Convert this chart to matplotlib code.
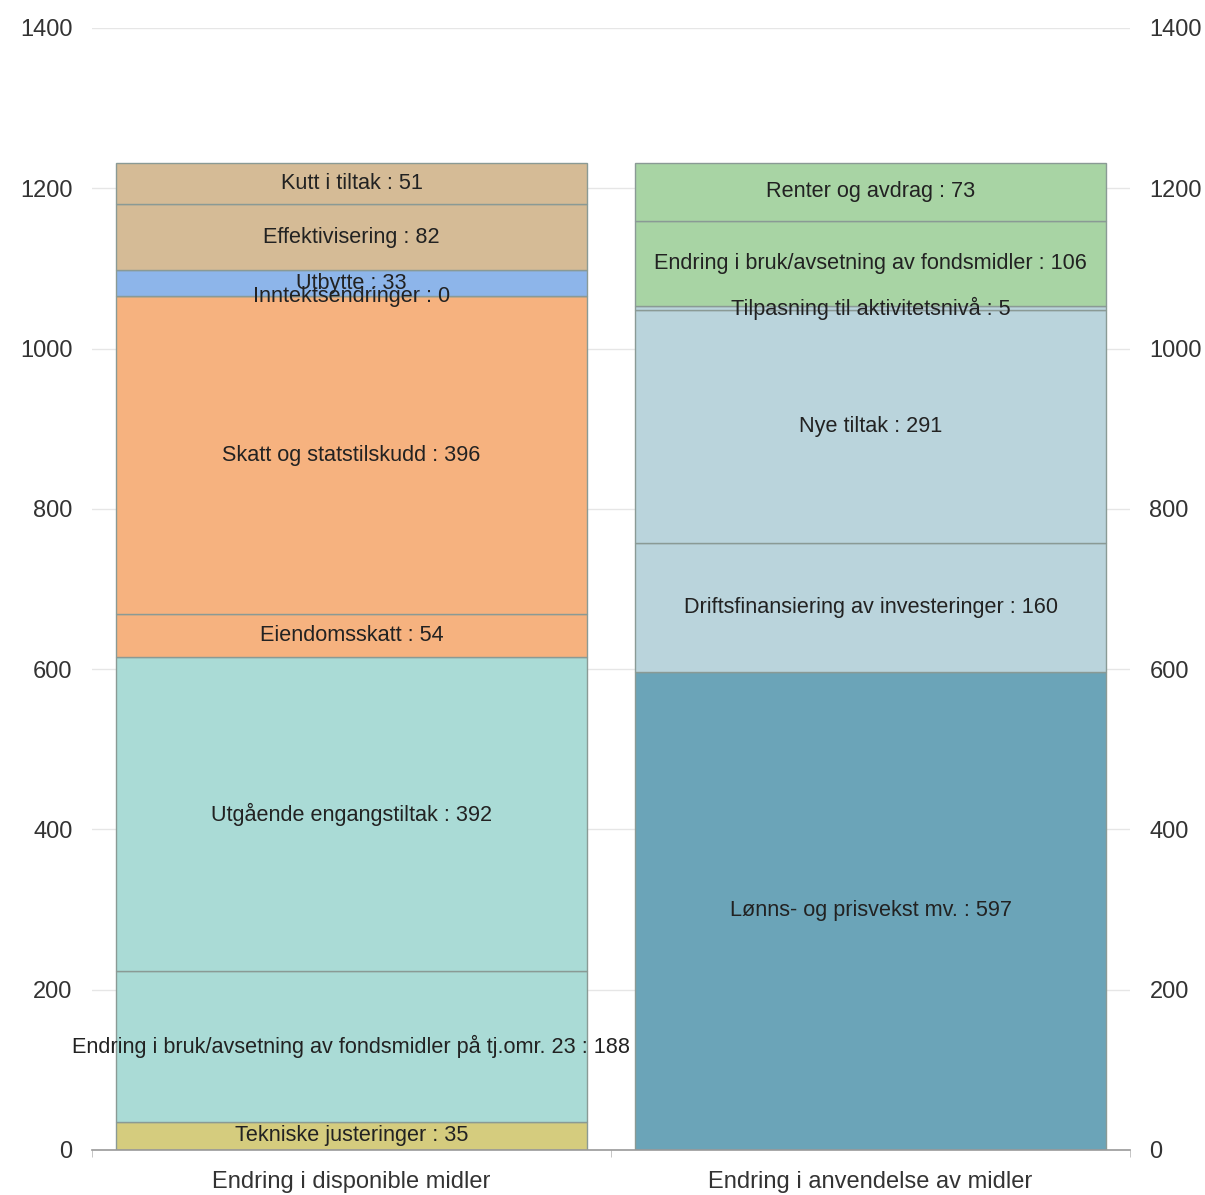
import matplotlib
matplotlib.use("Agg")
import matplotlib.pyplot as plt
from matplotlib.ticker import FixedLocator

plt.rcParams['font.family'] = ['Liberation Sans', 'DejaVu Sans']

categories = ["Endring i disponible midler", "Endring i anvendelse av midler"]

left_labels = ["Tekniske justeringer", "Endring i bruk/avsetning av fondsmidler på tj.omr. 23",
               "Utgående engangstiltak", "Eiendomsskatt", "Skatt og statstilskudd",
               "Inntektsendringer", "Utbytte", "Effektivisering", "Kutt i tiltak"]
left_values = [35, 188, 392, 54, 396, 0, 33, 82, 51]
left_colors = ["#d5cc7e", "#aadbd6", "#aadbd6", "#f6b27f", "#f6b27f",
               "#f6b27f", "#8db5ea", "#d5bb96", "#d5bb96"]

right_labels = ["Lønns- og prisvekst mv.", "Driftsfinansiering av investeringer", "Nye tiltak",
                "Tilpasning til aktivitetsnivå", "Endring i bruk/avsetning av fondsmidler",
                "Renter og avdrag"]
right_values = [597, 160, 291, 5, 106, 73]
right_colors = ["#6ba4b8", "#bad4dc", "#bad4dc", "#bad4dc", "#a8d4a4", "#a8d4a4"]

yticks = [0, 200, 400, 600, 800, 1000, 1200, 1400]

fig = plt.figure(figsize=(12.05, 11.95), dpi=100)
ax = fig.add_axes([0.0763, 0.0377, 0.8615, 0.9389])

width = 0.907
for xi, vals, labs, cols in [(0, left_values, left_labels, left_colors),
                             (1, right_values, right_labels, right_colors)]:
    bottom = 0
    for v, lab, c in zip(vals, labs, cols):
        ax.bar(xi, v, width=width, bottom=bottom, color=c, edgecolor="#8a9a95",
               linewidth=1.0, zorder=2)
        ax.text(xi, bottom + v / 2, f"{lab} : {v}", ha="center", va="center",
                fontsize=15.6, color="#222222", zorder=3)
        bottom += v

ax.set_xlim(-0.5, 1.5)
ax.set_ylim(0, 1400)
ax.set_yticks(yticks)
ax.set_yticklabels([str(t) for t in yticks])
ax.yaxis.grid(True, color="#e6e6e6", linewidth=1, zorder=0)
ax.set_axisbelow(True)
ax.tick_params(axis='y', length=0, labelsize=17, labelcolor="#333333",
               labelright=True, left=False, right=False, pad=14)
ax.set_xticks([0, 1])
ax.set_xticklabels(categories)
ax.tick_params(axis='x', length=0, labelsize=17, labelcolor="#333333", pad=15)
ax.xaxis.set_minor_locator(FixedLocator([-0.5, 0.5, 1.5]))
ax.tick_params(axis='x', which='minor', length=5, color="#bbbbbb")
for s in ["top", "left", "right"]:
    ax.spines[s].set_visible(False)
ax.spines["bottom"].set_color("#999999")
ax.spines["bottom"].set_linewidth(1.2)

fig.savefig("out.png", dpi=100)
